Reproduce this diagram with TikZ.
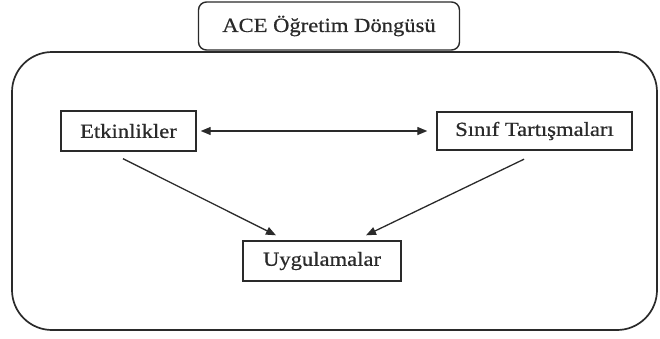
\documentclass[tikz,border=0pt]{standalone}
\usepackage{fontspec}
\setmainfont{Liberation Serif}[FakeStretch=1.13,FakeBold=0.6]
\usetikzlibrary{arrows.meta}
\definecolor{ink}{HTML}{2A2A2A}
\begin{document}
\begin{tikzpicture}[x=1pt,y=-1pt,
  box/.style={draw=ink,line width=1.4pt,fill=white,inner sep=0pt,
    font=\fontsize{20}{24}\selectfont,text=ink},
  tip/.tip={Triangle[length=10pt,width=8pt]},
  link/.style={draw=ink,line width=1.3pt,-tip},
  both/.style={draw=ink,line width=1.3pt,tip-tip}]
  \useasboundingbox (0,0) rectangle (660,338);
  % outer frame
  \draw[ink,line width=1.7pt,rounded corners=40pt] (12,52) rectangle (657,330);
  % title tab
  \node[box,rounded corners=8pt,minimum width=261pt,minimum height=48pt] (title) at (329,26) {ACE Öğretim Döngüsü};
  % the three stages
  \node[box,minimum width=135pt,minimum height=40pt] (ek) at (128.5,131) {Etkinlikler};
  \node[box,minimum width=195pt,minimum height=38pt] (st) at (534.5,131) {Sınıf Tartışmaları};
  \node[box,minimum width=158pt,minimum height=40pt] (uy) at (322,261) {Uygulamalar};
  % connectors
  \draw[both,shorten <=4pt,shorten >=9pt] (ek.east) -- (st.west);
  \draw[link] ([xshift=-5.5pt,yshift=-7pt]ek.south) -- ([xshift=-46pt,yshift=5pt]uy.north);
  \draw[link] ([xshift=-10.5pt,yshift=-8.5pt]st.south) -- ([xshift=44pt,yshift=5pt]uy.north);
\end{tikzpicture}
\end{document}
